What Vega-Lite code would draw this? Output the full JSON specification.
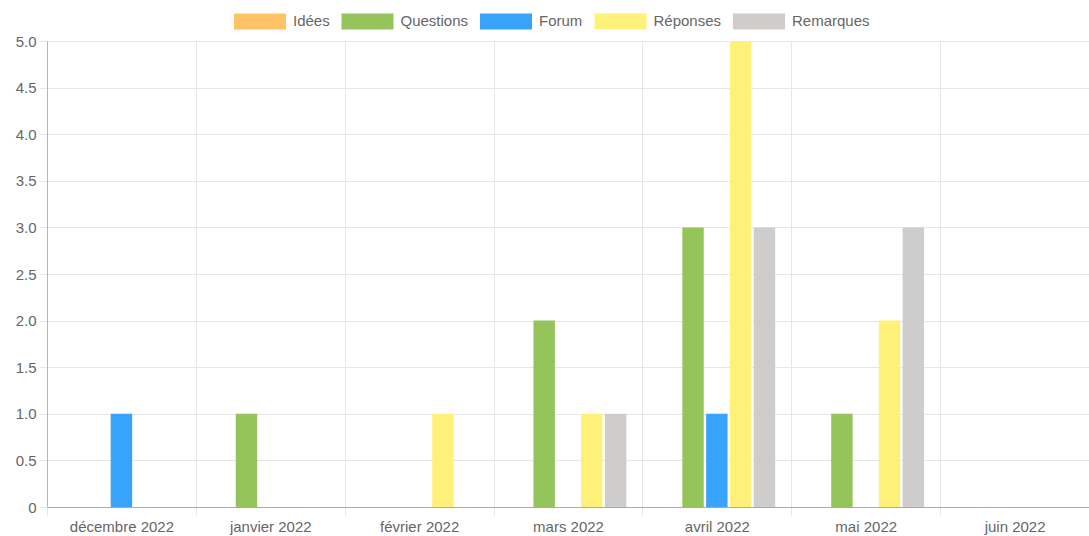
{
  "$schema": "https://vega.github.io/schema/vega-lite/v6.json",
  "width": 1042,
  "height": 466,
  "autosize": {"type": "none"},
  "padding": {"left": 47, "top": 41, "right": 0, "bottom": 29},
  "config": {
    "font": "Liberation Sans",
    "view": {"stroke": null},
    "axis": {"labelColor": "#666666", "labelFontSize": 15, "labelFont": "Liberation Sans", "gridColor": "#e6e6e6", "tickColor": "#e6e6e6", "domainColor": "#b5b5b5", "tickSize": 8, "title": null}
  },
  "data": {
    "values": [
      {"mois": "décembre 2022", "serie": "Idées", "valeur": 0},
      {"mois": "décembre 2022", "serie": "Questions", "valeur": 0},
      {"mois": "décembre 2022", "serie": "Forum", "valeur": 1},
      {"mois": "décembre 2022", "serie": "Réponses", "valeur": 0},
      {"mois": "décembre 2022", "serie": "Remarques", "valeur": 0},
      {"mois": "janvier 2022", "serie": "Idées", "valeur": 0},
      {"mois": "janvier 2022", "serie": "Questions", "valeur": 1},
      {"mois": "janvier 2022", "serie": "Forum", "valeur": 0},
      {"mois": "janvier 2022", "serie": "Réponses", "valeur": 0},
      {"mois": "janvier 2022", "serie": "Remarques", "valeur": 0},
      {"mois": "février 2022", "serie": "Idées", "valeur": 0},
      {"mois": "février 2022", "serie": "Questions", "valeur": 0},
      {"mois": "février 2022", "serie": "Forum", "valeur": 0},
      {"mois": "février 2022", "serie": "Réponses", "valeur": 1},
      {"mois": "février 2022", "serie": "Remarques", "valeur": 0},
      {"mois": "mars 2022", "serie": "Idées", "valeur": 0},
      {"mois": "mars 2022", "serie": "Questions", "valeur": 2},
      {"mois": "mars 2022", "serie": "Forum", "valeur": 0},
      {"mois": "mars 2022", "serie": "Réponses", "valeur": 1},
      {"mois": "mars 2022", "serie": "Remarques", "valeur": 1},
      {"mois": "avril 2022", "serie": "Idées", "valeur": 0},
      {"mois": "avril 2022", "serie": "Questions", "valeur": 3},
      {"mois": "avril 2022", "serie": "Forum", "valeur": 1},
      {"mois": "avril 2022", "serie": "Réponses", "valeur": 5},
      {"mois": "avril 2022", "serie": "Remarques", "valeur": 3},
      {"mois": "mai 2022", "serie": "Idées", "valeur": 0},
      {"mois": "mai 2022", "serie": "Questions", "valeur": 1},
      {"mois": "mai 2022", "serie": "Forum", "valeur": 0},
      {"mois": "mai 2022", "serie": "Réponses", "valeur": 2},
      {"mois": "mai 2022", "serie": "Remarques", "valeur": 3},
      {"mois": "juin 2022", "serie": "Idées", "valeur": 0},
      {"mois": "juin 2022", "serie": "Questions", "valeur": 0},
      {"mois": "juin 2022", "serie": "Forum", "valeur": 0},
      {"mois": "juin 2022", "serie": "Réponses", "valeur": 0},
      {"mois": "juin 2022", "serie": "Remarques", "valeur": 0}
    ]
  },
  "mark": {"type": "bar"},
  "encoding": {
    "x": {
      "field": "mois", "type": "nominal", "sort": null,
      "scale": {"domain": ["décembre 2022", "janvier 2022", "février 2022", "mars 2022", "avril 2022", "mai 2022", "juin 2022"], "paddingInner": 0, "paddingOuter": 0},
      "axis": {"labelAngle": 0, "tickBand": "extent", "grid": true, "labelPadding": 4, "domainColor": "#aaaaaa"}
    },
    "xOffset": {
      "field": "serie", "type": "nominal",
      "scale": {"domain": ["Idées", "Questions", "Forum", "Réponses", "Remarques"], "paddingInner": 0.1, "paddingOuter": 0.675}
    },
    "y": {
      "field": "valeur", "type": "quantitative",
      "scale": {"domain": [0, 5], "nice": false},
      "axis": {"values": [0, 0.5, 1, 1.5, 2, 2.5, 3, 3.5, 4, 4.5, 5], "labelExpr": "datum.value == 0 ? '0' : format(datum.value, '.1f')", "labelPadding": 3, "grid": true}
    },
    "color": {
      "field": "serie", "type": "nominal",
      "scale": {"domain": ["Idées", "Questions", "Forum", "Réponses", "Remarques"], "range": ["#FFC266", "#95C45B", "#37A3FA", "#FFF07A", "#CFCDCB"]},
      "legend": {
        "title": null, "orient": "none", "direction": "horizontal", "legendX": 187, "legendY": -46,
        "symbolType": "M-1,-0.3077H1V0.3077H-1Z", "symbolSize": 2704, "symbolStrokeWidth": 0, "symbolOpacity": 1,
        "labelFontSize": 15, "labelColor": "#666666", "labelOffset": 7, "columnPadding": 11.5, "labelFont": "Liberation Sans"
      }
    }
  }
}
